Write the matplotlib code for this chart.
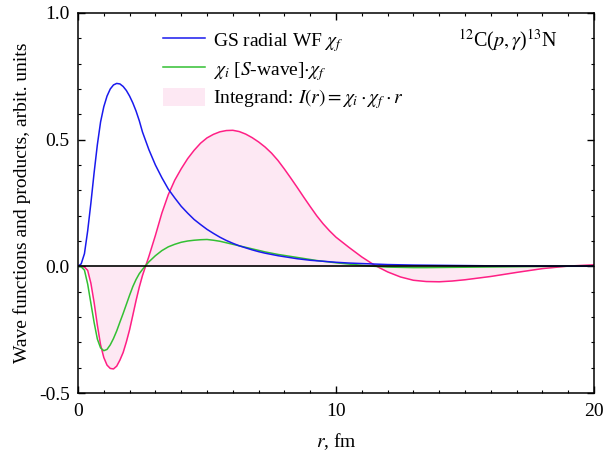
import numpy as np
import matplotlib
matplotlib.use("Agg")
import matplotlib.pyplot as plt
from matplotlib.lines import Line2D
from matplotlib.patches import Patch

plt.rcParams["font.family"] = ["Liberation Serif", "DejaVu Serif"]
plt.rcParams["mathtext.fontset"] = "stix"

# radius grid, fm
r = [0, 0.125, 0.25, 0.375, 0.5, 0.625, 0.75, 0.875, 1.0, 1.125, 1.25, 1.375,
     1.5, 1.625, 1.75, 1.875, 2.0, 2.125, 2.25, 2.375, 2.5, 2.75, 3.0, 3.25,
     3.5, 3.75, 4.0, 4.25, 4.5, 4.75, 5.0, 5.25, 5.5, 5.75, 6.0, 6.25, 6.5,
     6.75, 7.0, 7.25, 7.5, 7.75, 8.0, 8.25, 8.5, 8.75, 9.0, 9.25, 9.5, 9.75,
     10.0, 10.5, 11.0, 11.5, 12.0, 12.5, 13.0, 13.5, 14.0, 14.5,
     15.0, 16.0, 17.0, 18.0, 19.0, 20.0]

# GS radial WF chi_f
chi_f = [0, 0.01, 0.05, 0.14, 0.25, 0.37, 0.48, 0.57, 0.63, 0.672, 0.70, 0.716,
         0.722, 0.72, 0.71, 0.694, 0.672, 0.645, 0.613, 0.575, 0.53, 0.46,
         0.40, 0.35, 0.305, 0.27, 0.237, 0.21, 0.185, 0.165, 0.146, 0.130,
         0.115, 0.102, 0.091, 0.081, 0.073, 0.065, 0.058, 0.052, 0.047, 0.042,
         0.038, 0.034, 0.030, 0.027, 0.024, 0.022, 0.020, 0.018, 0.016, 0.013,
         0.011, 0.009, 0.007, 0.006, 0.005, 0.0045, 0.004, 0.0035, 0.003,
         0.002, 0.0015, 0.001, 0.0007, 0.0005]

# chi_i [S-wave] * chi_f
chi_if = [0, -0.002, -0.015, -0.07, -0.146, -0.222, -0.287, -0.322, -0.333,
          -0.328, -0.31, -0.285, -0.255, -0.22, -0.186, -0.15, -0.114, -0.08,
          -0.052, -0.029, -0.012, 0.018, 0.042, 0.062, 0.077, 0.087, 0.095,
          0.100, 0.103, 0.105, 0.106, 0.103, 0.099, 0.093, 0.087, 0.081, 0.075,
          0.069, 0.063, 0.057, 0.052, 0.047, 0.043, 0.039, 0.035, 0.031, 0.027,
          0.023, 0.020, 0.017, 0.014, 0.009, 0.004, 0.0, -0.003, -0.004,
          -0.005, -0.005, -0.0045, -0.004, -0.0035, -0.0025, -0.0015, -0.0005,
          0.0002, 0.0003]

# integrand I(r)
integrand = [0, 0, -0.003, -0.016, -0.067, -0.143, -0.232, -0.31, -0.36, -0.39,
             -0.403, -0.405, -0.394, -0.37, -0.34, -0.298, -0.25, -0.193,
             -0.135, -0.082, -0.036, 0.04, 0.122, 0.21, 0.283, 0.34, 0.385,
             0.425, 0.458, 0.486, 0.507, 0.521, 0.531, 0.536, 0.537, 0.532,
             0.522, 0.508, 0.491, 0.471, 0.447, 0.418, 0.384, 0.348, 0.311,
             0.273, 0.236, 0.200, 0.168, 0.140, 0.115, 0.075, 0.037, 0.004,
             -0.022, -0.042, -0.055, -0.060, -0.061, -0.058, -0.053, -0.040,
             -0.024, -0.009, 0.001, 0.006]

fig = plt.figure(figsize=(6.05, 4.59), dpi=100)
ax = fig.add_axes([78 / 605, 1 - 393 / 459, 516 / 605, 380 / 459])

fill_col = "#fde8f3"
ax.fill_between(r, integrand, 0, color=fill_col, lw=0, zorder=1)
ax.plot(r, integrand, color="#ff1f85", lw=1.1, zorder=2)
ax.plot(r, chi_if, color="#33c033", lw=1.1, zorder=2)
ax.plot(r, chi_f, color="#1a1aee", lw=1.1, zorder=2)
ax.axhline(0, color="black", lw=1.2, zorder=3)

ax.set_xlim(0, 20)
ax.set_ylim(-0.5, 1.0)
ax.set_xticks([0, 10, 20])
ax.set_xticks(np.arange(0, 21, 1), minor=True)
ax.set_yticks([-0.5, 0.0, 0.5, 1.0])
ax.set_yticks(np.arange(-0.5, 1.01, 0.1), minor=True)
ax.set_yticklabels(["-0.5", "0.0", "0.5", "1.0"])
ax.tick_params(which="both", direction="in", top=True, right=True,
               labelsize=14)
ax.tick_params(which="major", length=5, width=1)
ax.tick_params(which="minor", length=2.5, width=0.8)
ax.tick_params(axis="x", pad=7)
ax.tick_params(axis="y", pad=6)
for s in ax.spines.values():
    s.set_linewidth(1.1)

ax.set_xlabel(r"$r$, fm", fontsize=14, labelpad=8)
ax.set_ylabel("Wave functions and products, arbit. units", fontsize=14,
              labelpad=6)

handles = [Line2D([], [], color="#1a1aee", lw=1.1),
           Line2D([], [], color="#33c033", lw=1.1),
           Patch(facecolor=fill_col, edgecolor="none")]
labels = [r"GS radial WF $\chi_f$",
          r"$\chi_i$ [$S$-wave]$\cdot\chi_f$",
          r"Integrand: $I(r) = \chi_i\cdot\chi_f\cdot r$"]
ax.legend(handles, labels, loc="upper left", bbox_to_anchor=(0.13, 1.0),
          frameon=False, fontsize=14, handlelength=2.2, handleheight=1.1,
          handletextpad=0.4, labelspacing=0.25)

ax.text(0.93, 0.93, r"$^{12}$C($p,\gamma$)$^{13}$N", transform=ax.transAxes,
        fontsize=14.5, ha="right", va="center")

fig.savefig("out.png", dpi=100)
